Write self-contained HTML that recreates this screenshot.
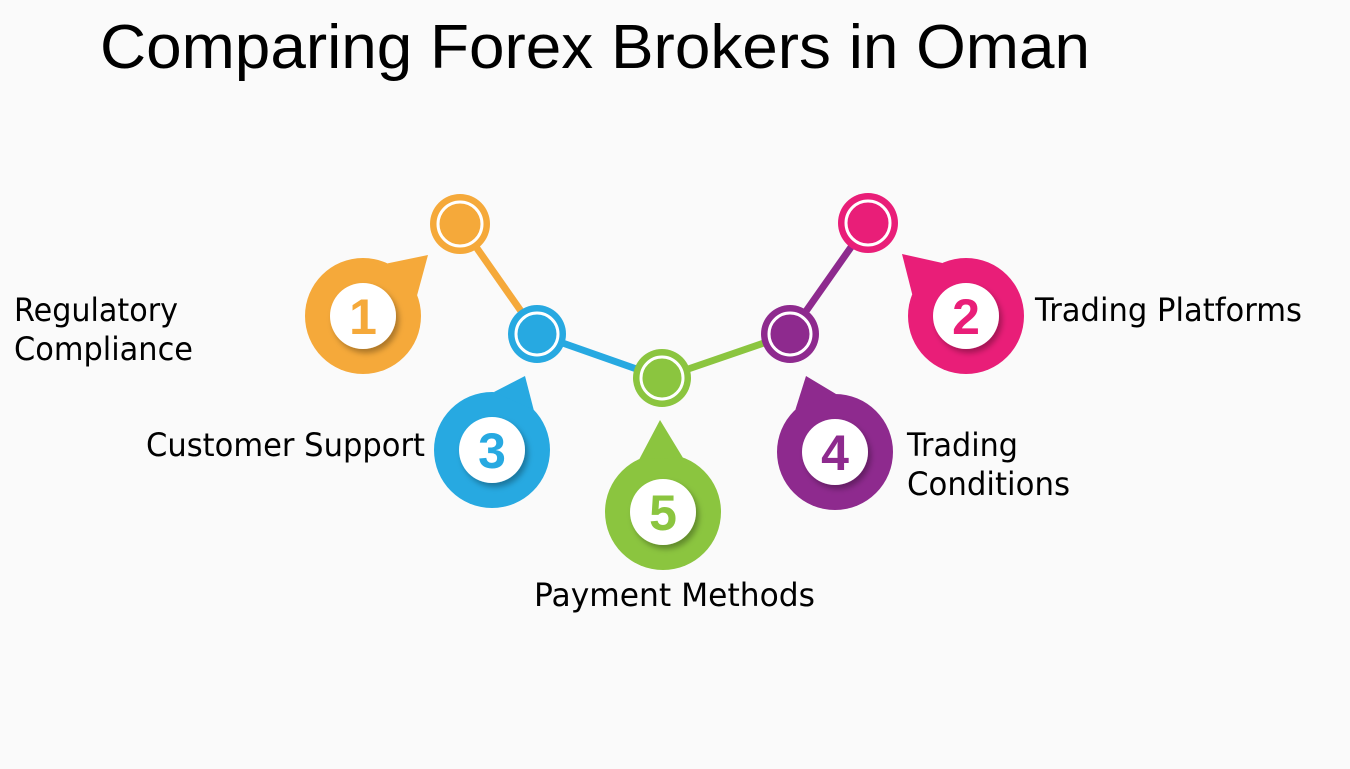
<!DOCTYPE html>
<html><head><meta charset="utf-8"><style>
html,body{margin:0;padding:0;background:#fafafa;}
svg{display:block;}
</style></head><body>
<svg width="1350" height="769" viewBox="0 0 1350 769" xmlns="http://www.w3.org/2000/svg">
<defs>
<filter id="sh" x="-30%" y="-30%" width="160%" height="160%"><feDropShadow dx="3" dy="4" stdDeviation="3" flood-color="#000" flood-opacity="0.3"/></filter>
</defs>
<rect width="1350" height="769" fill="#fafafa"/>
<text x="100" y="68" font-family="Liberation Sans, sans-serif" font-size="62" textLength="990" lengthAdjust="spacingAndGlyphs" fill="#000">Comparing Forex Brokers in Oman</text>

<line x1="460" y1="224" x2="537" y2="334" stroke="#F5A93A" stroke-width="7"/>
<line x1="537" y1="334" x2="662" y2="378" stroke="#27A9E1" stroke-width="7"/>
<line x1="662" y1="378" x2="790" y2="334" stroke="#8BC53F" stroke-width="7"/>
<line x1="790" y1="334" x2="868" y2="223" stroke="#8E2A8E" stroke-width="7"/>

<g stroke="#fff" stroke-width="3">
<circle cx="460" cy="224" r="30" fill="#F5A93A" stroke="none"/><circle cx="460" cy="224" r="22" fill="#F5A93A"/>
<circle cx="537" cy="334" r="29" fill="#27A9E1" stroke="none"/><circle cx="537" cy="334" r="21" fill="#27A9E1"/>
<circle cx="662" cy="378" r="29" fill="#8BC53F" stroke="none"/><circle cx="662" cy="378" r="21" fill="#8BC53F"/>
<circle cx="790" cy="334" r="29" fill="#8E2A8E" stroke="none"/><circle cx="790" cy="334" r="21" fill="#8E2A8E"/>
<circle cx="868" cy="223" r="30" fill="#E91E78" stroke="none"/><circle cx="868" cy="223" r="22" fill="#E91E78"/>
</g>

<g font-family="Liberation Sans, sans-serif" font-weight="bold" font-size="50" text-anchor="middle">
<circle cx="363" cy="316" r="58" fill="#F5A93A"/><polygon points="387.5,263.4 428,255 417.1,295.2" fill="#F5A93A"/>
<circle cx="363" cy="316" r="33" fill="#fff" filter="url(#sh)"/><text x="363" y="334" fill="#F5A93A">1</text>

<circle cx="966" cy="316" r="58" fill="#E91E78"/><polygon points="912.2,294.3 902,254 942.4,263" fill="#E91E78"/>
<circle cx="966" cy="316" r="33" fill="#fff" filter="url(#sh)"/><text x="966" y="334" fill="#E91E78">2</text>

<circle cx="492" cy="450" r="58" fill="#27A9E1"/><polygon points="494,392 525,376 533.7,409.7" fill="#27A9E1"/>
<circle cx="492" cy="450" r="33" fill="#fff" filter="url(#sh)"/><text x="492" y="468" fill="#27A9E1">3</text>

<circle cx="663" cy="512" r="58" fill="#8BC53F"/><polygon points="639.4,459 660,420 682.8,457.5" fill="#8BC53F"/>
<circle cx="663" cy="512" r="33" fill="#fff" filter="url(#sh)"/><text x="663" y="530" fill="#8BC53F">5</text>

<circle cx="835" cy="452" r="58" fill="#8E2A8E"/><polygon points="795.4,409.6 806,376 836,394" fill="#8E2A8E"/>
<circle cx="835" cy="452" r="33" fill="#fff" filter="url(#sh)"/><text x="835" y="470" fill="#8E2A8E">4</text>
</g>

<g font-family="DejaVu Sans, Liberation Sans, sans-serif" font-size="32" fill="#000">
<text x="14" y="321" textLength="164" lengthAdjust="spacingAndGlyphs">Regulatory</text>
<text x="14" y="360" textLength="179" lengthAdjust="spacingAndGlyphs">Compliance</text>
<text x="1035" y="321" textLength="267" lengthAdjust="spacingAndGlyphs">Trading Platforms</text>
<text x="146" y="456" textLength="279" lengthAdjust="spacingAndGlyphs">Customer Support</text>
<text x="907" y="456" textLength="111" lengthAdjust="spacingAndGlyphs">Trading</text>
<text x="907" y="495" textLength="163" lengthAdjust="spacingAndGlyphs">Conditions</text>
<text x="534" y="606" textLength="281" lengthAdjust="spacingAndGlyphs">Payment Methods</text>
</g>
</svg>
</body></html>
